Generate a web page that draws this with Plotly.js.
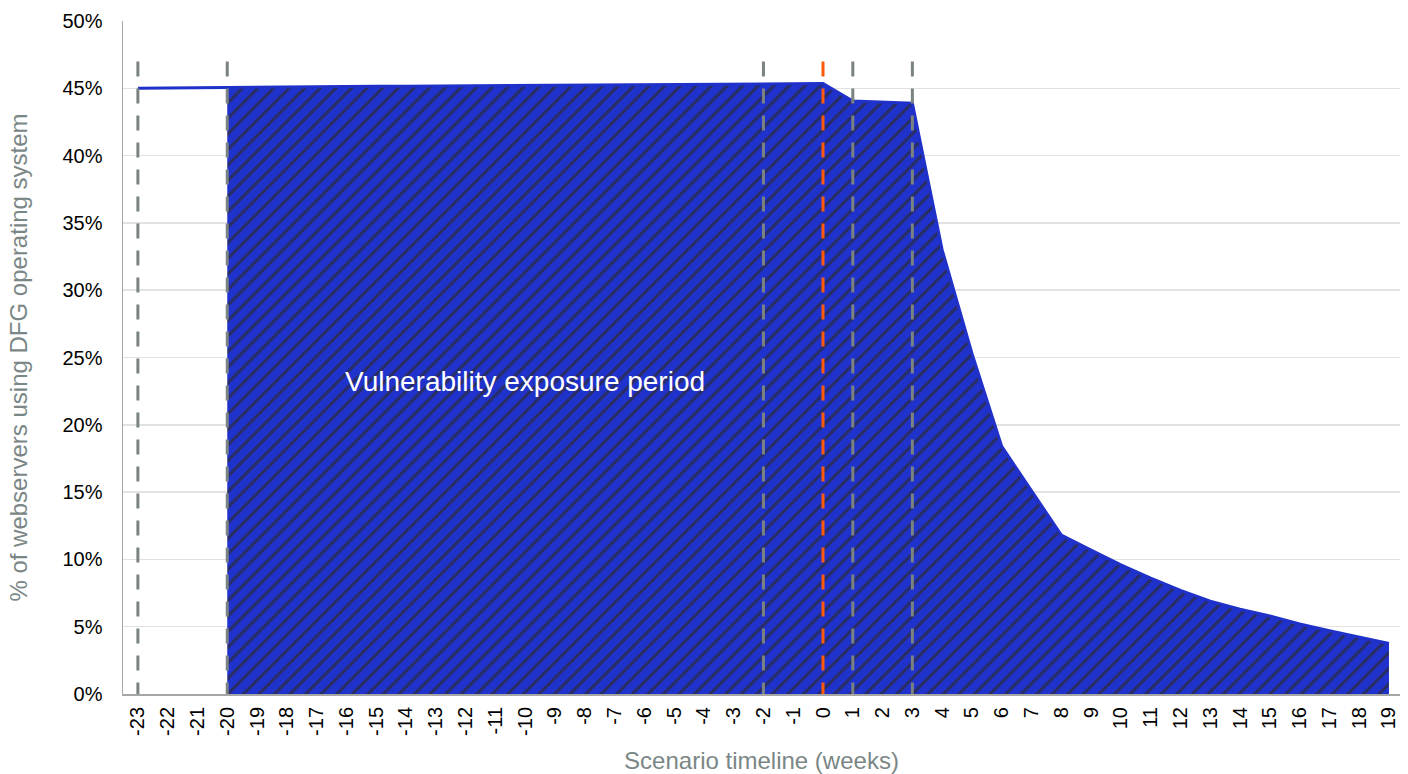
<!DOCTYPE html>
<html><head><meta charset="utf-8">
<script src="https://cdn.plot.ly/plotly-3.0.1.min.js"></script>
<style>html,body{margin:0;padding:0;background:#fff}#chart{width:1408px;height:774px}</style>
</head><body><div id="chart"></div>
<script>
// ---- data ----
const weeks = [-23,-22,-21,-20,-19,-18,-17,-16,-15,-14,-13,-12,-11,-10,-9,-8,-7,-6,-5,-4,-3,-2,-1,0,1,2,3,4,5,6,7,8,9,10,11,12,13,14,15,16,17,18,19];
const sharePct = [45.00,45.02,45.05,45.10,45.11,45.12,45.13,45.14,45.15,45.16,45.17,45.18,45.19,45.20,45.21,45.22,45.23,45.24,45.25,45.27,45.29,45.31,45.33,45.35,44.05,44.00,43.90,33.0,25.3,18.4,15.1,11.8,10.7,9.6,8.6,7.7,6.9,6.3,5.8,5.2,4.7,4.2,3.75];
const exposureStartWeek = -20;
const eventWeeks = [-23,-20,-2,0,1,3];
const disclosureWeek = 0;
const annotationText = 'Vulnerability exposure period';
const annotationPos = {week: -10, pct: 23.2};
const yTitle = '% of webservers using DFG operating system';
const xTitle = 'Scenario timeline (weeks)';

// ---- styles ----
const FONT = 'Arial, "Liberation Sans", sans-serif';
const GRAYTXT = '#7b8786';
const startIdx = weeks.indexOf(exposureStartWeek);
const areaX = weeks.slice(startIdx);
const areaY = sharePct.slice(startIdx);

const traces = [
  {
    x: areaX, y: areaY, type: 'scatter', mode: 'lines',
    fill: 'tozeroy',
    line: {width: 0, color: '#1f30c4'},
    fillcolor: '#2032cc',
    fillpattern: {shape: '/', bgcolor: '#2032cc', fgcolor: '#282d62', size: 11, solidity: 0.28},
    hoverinfo: 'skip'
  },
  {
    x: weeks, y: sharePct, type: 'scatter', mode: 'lines',
    line: {width: 3, color: '#1f31c8'},
    hoverinfo: 'skip'
  }
];

const shapes = eventWeeks.map(w => ({
  type: 'line', xref: 'x', yref: 'y',
  x0: w, x1: w, y0: 47, y1: 0,
  layer: 'above',
  line: {color: w === disclosureWeek ? '#ff5a0a' : '#7a8382', width: 3, dash: '15px,12px'}
}));

const layout = {
  width: 1408, height: 774,
  margin: {l: 123, r: 8, t: 21, b: 80},
  paper_bgcolor: '#fff', plot_bgcolor: '#fff',
  showlegend: false,
  font: {family: FONT, color: '#000'},
  xaxis: {
    type: 'linear',
    range: [-23.5, 19.37],
    tickmode: 'array', tickvals: weeks, ticktext: weeks.map(String),
    tickangle: -90,
    tickfont: {family: FONT, size: 20, color: '#000'},
    showgrid: false, zeroline: false,
    showline: true, linecolor: '#a6a6a6', linewidth: 2,
    ticks: '', ticklabelstandoff: 3,
    title: {text: xTitle, font: {family: FONT, size: 24, color: GRAYTXT}, standoff: 20}
  },
  yaxis: {
    range: [0, 50], dtick: 5, tick0: 0,
    ticksuffix: '%',
    tickfont: {family: FONT, size: 20, color: '#000'},
    showgrid: true, gridcolor: '#e2e2e2', gridwidth: 1.5,
    zeroline: false,
    showline: true, linecolor: '#a6a6a6', linewidth: 1.5,
    ticks: '', ticklabelstandoff: 15,
    title: {text: yTitle, font: {family: FONT, size: 24, color: GRAYTXT}, standoff: 28}
  },
  shapes: shapes,
  annotations: [{
    x: annotationPos.week, y: annotationPos.pct, xref: 'x', yref: 'y',
    text: annotationText, showarrow: false,
    font: {family: FONT, size: 28, color: '#ffffff'}
  }]
};

Plotly.newPlot('chart', traces, layout, {staticPlot: true, displayModeBar: false});
</script>
</body></html>
